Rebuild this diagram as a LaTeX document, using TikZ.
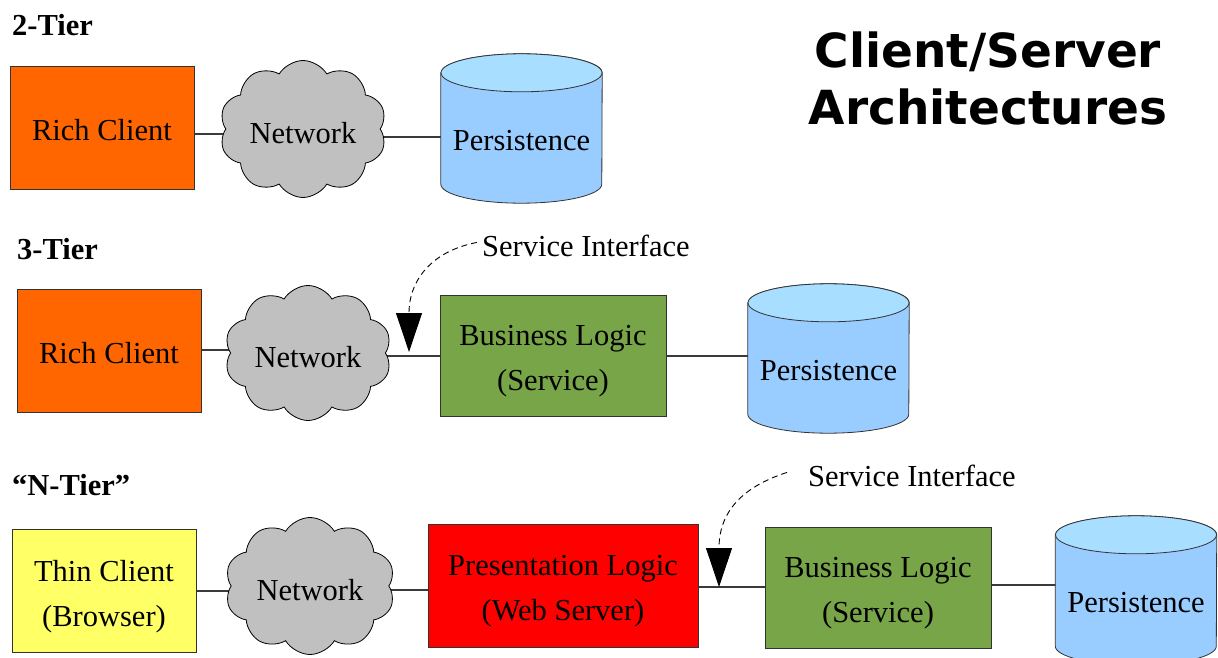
\documentclass[tikz,border=0pt]{standalone}
\usepackage{fontspec}
\setmainfont{Liberation Serif}
\newfontfamily\titlefont{DejaVu Sans}
\usetikzlibrary{shapes.symbols,arrows.meta,backgrounds}

\definecolor{richorange}{HTML}{FF6600}
\definecolor{thinyellow}{HTML}{FFFF66}
\definecolor{webred}{HTML}{FF0000}
\definecolor{logicgreen}{HTML}{77A547}
\definecolor{netgrey}{HTML}{C0C0C0}
\definecolor{dbbody}{HTML}{99CCFF}
\definecolor{dbtop}{HTML}{A8DEFF}
\definecolor{edgegrey}{HTML}{333333}
\definecolor{wiregrey}{HTML}{3A3A3A}

\begin{document}
\begin{tikzpicture}[x=1pt,y=-1pt,
  txt/.style={font=\fontsize{30.5}{45}\selectfont},
  tierlabel/.style={font=\fontsize{30.5}{36}\selectfont\bfseries, anchor=base west, inner sep=0pt},
  box/.style={draw=edgegrey, line width=0.9pt, rectangle, inner sep=0pt},
  network/.style={cloud, cloud puffs=10, cloud puff arc=118, aspect=1.2,
    draw=black, fill=netgrey, line width=0.8pt, inner sep=0pt,
    label={[txt, inner sep=0pt, yshift=-4pt]center:Network}},
  dbframe/.style={rectangle, minimum width=161pt, minimum height=149pt, inner sep=0pt},
  dbline/.style={draw=edgegrey, line width=0.8pt},
  dblabel/.style={txt, inner sep=0pt},
  wire/.style={draw=wiregrey, line width=1.2pt},
  note/.style={txt, anchor=base west, inner sep=0pt},
  pointer/.style={dashed, dash pattern=on 6pt off 4pt, line width=0.9pt,
    -{Triangle[width=26pt,length=39pt]}}
]
\useasboundingbox (0,0) rectangle (1218,658);

% title
\node[font=\titlefont\bfseries\fontsize{47}{57}\selectfont, align=center, inner sep=0pt]
  (title) at (988,78) {Client/Server\\Architectures};

% ---------- 2-Tier ----------
\node[tierlabel] (tier2) at (12,36) {2-Tier};
\node[box, fill=richorange, minimum width=184pt, minimum height=123pt,
  label={[txt, inner sep=0pt, yshift=-3pt]center:Rich Client}] (rc1) at (102,127.5) {};
\node[network, minimum width=167pt, minimum height=137pt] (net1) at (303,129) {};
\node[dbframe] (db1) at (521.5,128.5) {};

% ---------- 3-Tier ----------
\node[tierlabel] (tier3) at (17,259) {3-Tier};
\node[box, fill=richorange, minimum width=184pt, minimum height=123pt,
  label={[txt, inner sep=0pt, yshift=-3pt]center:Rich Client}] (rc2) at (109,350.5) {};
\node[network, minimum width=167pt, minimum height=135pt] (net2) at (308,353) {};
\node[box, fill=logicgreen, minimum width=226pt, minimum height=121pt,
  label={[txt, align=center, inner sep=0pt, yshift=-6pt]center:Business Logic\\(Service)}]
  (bl2) at (553,355.5) {};
\node[dbframe] (db2) at (828.5,358.5) {};
\node[note] (si2) at (482,256) {Service Interface};
\coordinate (tip2) at (409,352);

% ---------- N-Tier ----------
\node[tierlabel] (tiern) at (12,495) {``N-Tier''};
\node[box, fill=thinyellow, minimum width=184pt, minimum height=123pt,
  label={[txt, align=center, inner sep=0pt, yshift=-6pt]center:Thin Client\\(Browser)}]
  (tc) at (104,590.5) {};
\node[network, minimum width=170pt, minimum height=137pt] (net3) at (310,586) {};
\node[box, fill=webred, minimum width=270pt, minimum height=123pt,
  label={[txt, align=center, inner sep=0pt, yshift=-6pt]center:Presentation Logic\\(Web Server)}]
  (pl) at (563,585.5) {};
\node[box, fill=logicgreen, minimum width=226pt, minimum height=121pt,
  label={[txt, align=center, inner sep=0pt, yshift=-6pt]center:Business Logic\\(Service)}]
  (bl3) at (878,587.5) {};
\node[dbframe] (db3) at (1136,590.5) {};
\node[note] (si3) at (808,486) {Service Interface};
\coordinate (tip3) at (719,587);

% persistence cylinders: body, lighter top ellipse, label
\foreach \d in {db1,db2,db3}{
  \draw[dbline, fill=dbbody] ([yshift=-19pt]\d.north west) -- ([yshift=19pt]\d.south west)
    arc[start angle=180, end angle=360, x radius=80.5pt, y radius=19pt]
    -- ([yshift=-19pt]\d.north east)
    arc[start angle=0, end angle=180, x radius=80.5pt, y radius=19pt] -- cycle;
  \draw[dbline, fill=dbtop] ([yshift=-19pt]\d.north) ellipse [x radius=80.5pt, y radius=19pt];
  \node[dblabel] (\d t) at ([yshift=-12.5pt]\d.center) {Persistence};
}

% connectors run behind the shapes
\begin{pgfonlayer}{background}
  \draw[wire] (rc1.east |- 0,134) -- (net1.center |- 0,134);
  \draw[wire] (net1.center |- 0,137) -- (db1.center |- 0,137);

  \draw[wire] (rc2.east |- 0,350) -- (net2.center |- 0,350);
  \draw[wire] (net2.center |- 0,356) -- (bl2.west |- 0,356);
  \draw[wire] (bl2.east |- 0,356) -- (db2.center |- 0,356);

  \draw[wire] (tc.east |- 0,591) -- (net3.center |- 0,591);
  \draw[wire] (net3.center |- 0,590) -- (pl.west |- 0,590);
  \draw[wire] (pl.east |- 0,587) -- (bl3.west |- 0,587);
  \draw[wire] (bl3.east |- 0,585) -- (db3.center |- 0,585);
\end{pgfonlayer}

% service interface pointers
\draw[pointer] ([xshift=-5pt,yshift=3pt]si2.west) .. controls (432,251) and (409,280) .. (tip2);
\draw[pointer] ([xshift=-21pt,yshift=3pt]si3.west) .. controls (742,487) and (719,512) .. (tip3);
\end{tikzpicture}
\end{document}
